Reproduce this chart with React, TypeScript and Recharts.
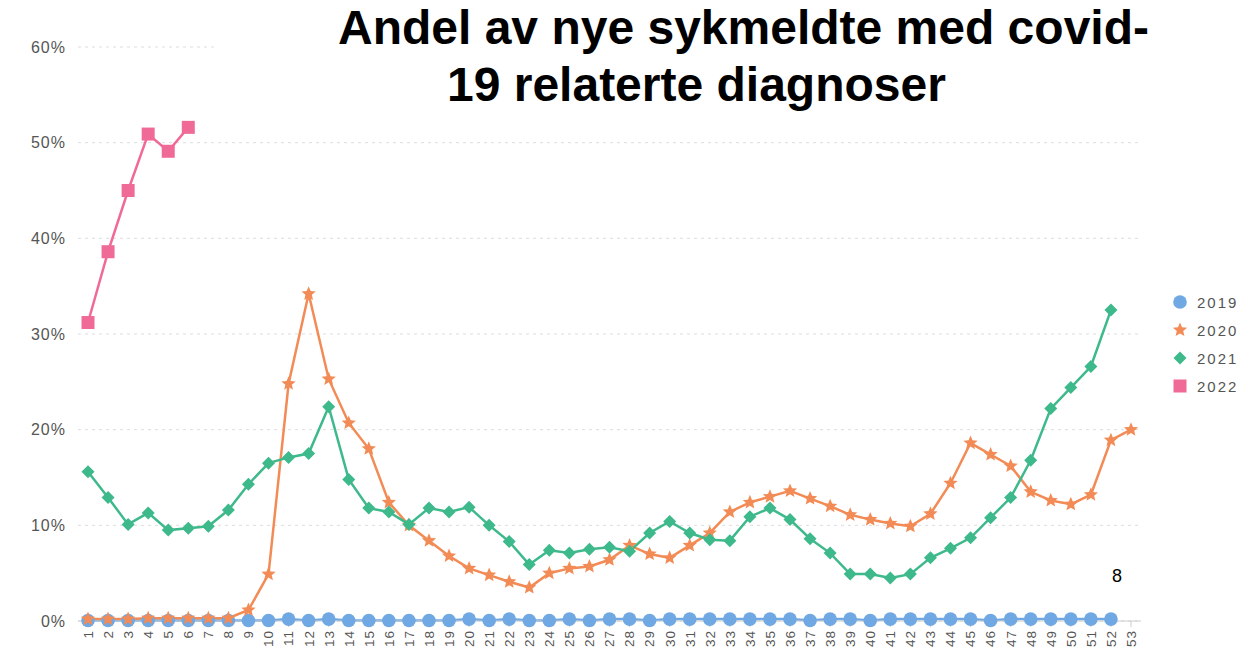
import React from "react";
import { LineChart, Line, XAxis, YAxis, CartesianGrid } from "recharts";

// uke 1..53
const weeks = Array.from({ length: 53 }, (_, i) => String(i + 1));

const y2019 = [
  0.05, 0.05, 0.05, 0.05, 0.05, 0.05, 0.05, 0.05, 0.05, 0.05, 0.2, 0.05, 0.2, 0.05, 0.05, 0.05, 0.05, 0.05,
  0.05, 0.2, 0.05, 0.2, 0.05, 0.05, 0.2, 0.05, 0.2, 0.2, 0.05, 0.2, 0.2, 0.2, 0.2, 0.2, 0.2, 0.2,
  0.05, 0.2, 0.2, 0.05, 0.2, 0.2, 0.2, 0.2, 0.2, 0.05, 0.2, 0.2, 0.2, 0.2, 0.2, 0.2,
];
const y2020 = [
  0.2, 0.2, 0.2, 0.3, 0.3, 0.3, 0.3, 0.3, 1.15, 4.9, 24.8, 34.2, 25.3, 20.7, 18.0, 12.4, 10.0, 8.4,
  6.8, 5.5, 4.8, 4.1, 3.5, 5.0, 5.5, 5.7, 6.4, 7.9, 7.0, 6.6, 7.9, 9.2, 11.4, 12.4, 13.0, 13.6,
  12.8, 12.0, 11.1, 10.6, 10.2, 9.9, 11.2, 14.4, 18.6, 17.4, 16.2, 13.5, 12.6, 12.2, 13.2, 18.9, 20.0,
];
const y2021 = [
  15.6, 12.9, 10.1, 11.3, 9.5, 9.7, 9.9, 11.6, 14.3, 16.5, 17.1, 17.5, 22.4, 14.8, 11.8, 11.4, 10.1, 11.8,
  11.4, 11.9, 10.0, 8.3, 5.9, 7.4, 7.1, 7.5, 7.7, 7.3, 9.2, 10.4, 9.2, 8.5, 8.4, 10.9, 11.8, 10.6,
  8.6, 7.1, 4.9, 4.9, 4.5, 4.9, 6.6, 7.6, 8.7, 10.8, 12.9, 16.8, 22.2, 24.4, 26.6, 32.5,
];
const y2022 = [31.2, 38.6, 45.0, 50.9, 49.1, 51.6];

const yTicks = [0, 10, 20, 30, 40, 50, 60];

const C2019 = "#6FA8E3";
const C2020 = "#F28B55";
const C2021 = "#3EB98B";
const C2022 = "#F06A98";

const data = weeks.map((w, i) => ({
  week: w,
  y2019: y2019[i],
  y2020: y2020[i],
  y2021: y2021[i],
  y2022: y2022[i],
}));

function starPath(cx: number, cy: number, r: number) {
  let d = "";
  for (let i = 0; i < 10; i++) {
    const rad = i % 2 === 0 ? r : r * 0.45;
    const a = -Math.PI / 2 + (i * Math.PI) / 5;
    d += (i === 0 ? "M" : "L") + (cx + rad * Math.cos(a)).toFixed(2) + "," + (cy + rad * Math.sin(a)).toFixed(2);
  }
  return d + "Z";
}

function Marker({ kind, cx, cy, color }: { kind: string; cx: number; cy: number; color: string }) {
  if (cx == null || cy == null) return null;
  if (kind === "circle") return <circle cx={cx} cy={cy} r={6.8} fill={color} />;
  if (kind === "star") return <path d={starPath(cx, cy, 7.5)} fill={color} />;
  if (kind === "diamond")
    return <path d={`M${cx},${cy - 6.5}L${cx + 6.5},${cy}L${cx},${cy + 6.5}L${cx - 6.5},${cy}Z`} fill={color} />;
  return <rect x={cx - 6.5} y={cy - 6.5} width={13} height={13} fill={color} />;
}

const makeDot = (kind: string, color: string) => (props: any) => (
  <Marker key={`${kind}-${props.index}`} kind={kind} cx={props.cx} cy={props.cy} color={color} />
);

const series = [
  { key: "y2019", name: "2019", color: C2019, kind: "circle" },
  { key: "y2020", name: "2020", color: C2020, kind: "star" },
  { key: "y2021", name: "2021", color: C2021, kind: "diamond" },
  { key: "y2022", name: "2022", color: C2022, kind: "square" },
];

function WeekTick({ x, y, payload }: any) {
  return (
    <g transform={`translate(${x},${y})`}>
      <text
        transform="rotate(-90)"
        x={-1}
        y={0}
        dy="0.36em"
        textAnchor="end"
        fontSize={13.5}
        letterSpacing={1}
        fill="#555"
        fontFamily="'Liberation Sans', Arial, sans-serif"
      >
        {payload.value}
      </text>
    </g>
  );
}

export default function App() {
  return (
    <div style={{ position: "absolute", left: 0, top: 0, width: 1246, height: 656, background: "#fff" }}>
      <LineChart width={1246} height={656} data={data} margin={{ top: 47, right: 105, bottom: 0, left: 0 }}>
        <CartesianGrid vertical={false} stroke="#ddd" strokeDasharray="3 4" />
        <XAxis
          dataKey="week"
          interval={0}
          height={35}
          padding={{ left: 10, right: 10 }}
          stroke="#ccc"
          tickLine={{ stroke: "#ccc" }}
          tickSize={6}
          tick={<WeekTick />}
        />
        <YAxis
          width={78}
          domain={[0, 60]}
          ticks={yTicks}
          axisLine={false}
          tickLine={false}
          tickMargin={6}
          tickFormatter={(v) => `${v}%`}
          tick={{ fontSize: 16, fill: "#555", letterSpacing: 1, fontFamily: "'Liberation Sans', Arial, sans-serif" }}
        />
        {series.map((s) => (
          <Line
            key={s.key}
            dataKey={s.key}
            name={s.name}
            stroke={s.color}
            strokeWidth={2.5}
            dot={makeDot(s.kind, s.color)}
            activeDot={false}
            connectNulls={false}
            isAnimationActive={false}
          />
        ))}
      </LineChart>

      {/* tittel ligger over rutenettet */}
      <div
        style={{
          position: "absolute",
          left: 215,
          top: 0,
          width: 1031,
          height: 115,
          background: "#fff",
          fontFamily: "'Liberation Sans', Arial, sans-serif",
          fontWeight: "bold",
          fontSize: 48,
          lineHeight: "48px",
          color: "#000",
          whiteSpace: "nowrap",
        }}
      >
        <div style={{ position: "absolute", left: 338 - 215, top: 4 }}>Andel av nye sykmeldte med covid-</div>
        <div style={{ position: "absolute", left: 447 - 215, top: 61 }}>19 relaterte diagnoser</div>
      </div>

      <div
        style={{
          position: "absolute",
          left: 1112,
          top: 566,
          fontFamily: "'Liberation Sans', Arial, sans-serif",
          fontSize: 18,
          color: "#000",
        }}
      >
        8
      </div>

      <div style={{ position: "absolute", left: 1171, top: 288 }}>
        {series.map((s) => (
          <div key={s.key} style={{ display: "flex", alignItems: "center", height: 28 }}>
            <svg width={18} height={18} style={{ marginRight: 8 }}>
              <Marker kind={s.kind} cx={9} cy={9} color={s.color} />
            </svg>
            <span
              style={{
                fontFamily: "'Liberation Sans', Arial, sans-serif",
                fontSize: 15,
                letterSpacing: 2,
                color: "#555",
              }}
            >
              {s.name}
            </span>
          </div>
        ))}
      </div>
    </div>
  );
}
